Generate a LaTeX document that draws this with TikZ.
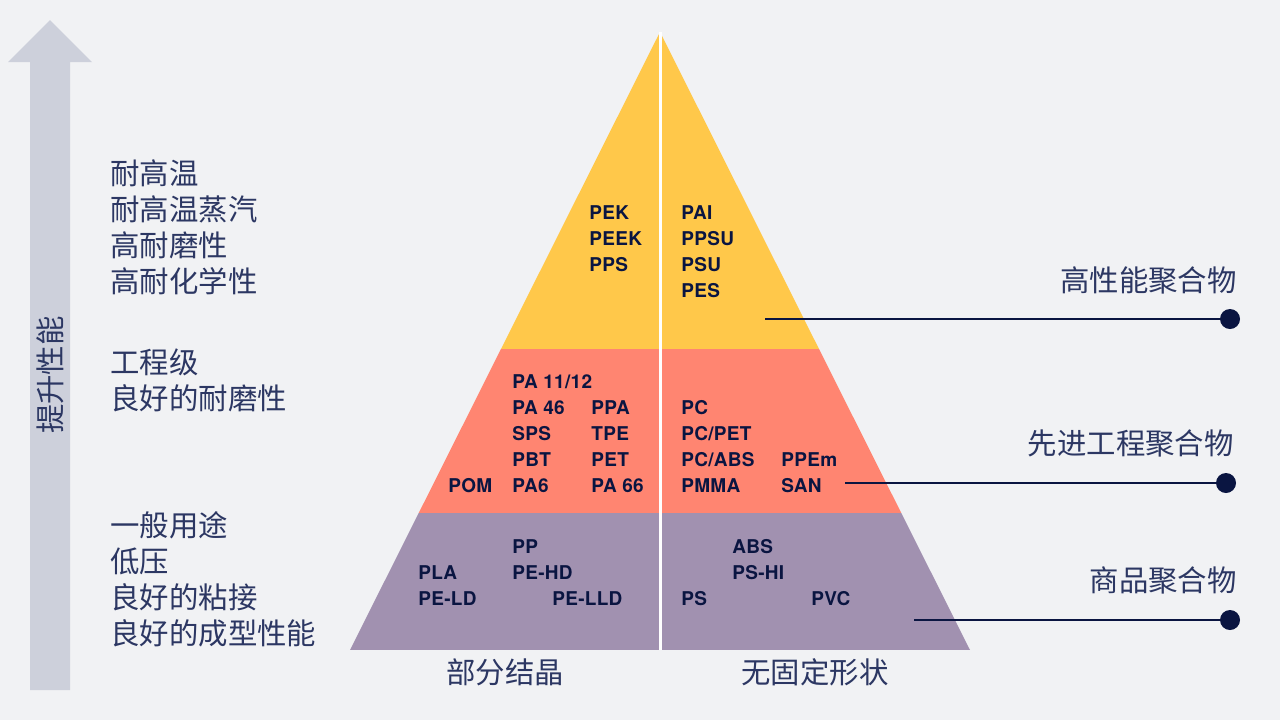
\documentclass[tikz,border=0pt]{standalone}
\usepackage{fontspec}
\setmainfont{Noto Sans}
\newfontfamily\cjk{Noto Sans CJK SC}
\newfontfamily\lab{TeX Gyre Heros}[LetterSpace=1.5]
\definecolor{bg}{HTML}{F1F2F4}
\definecolor{arrowc}{HTML}{CDD0DB}
\definecolor{yel}{HTML}{FFC84A}
\definecolor{sal}{HTML}{FF8571}
\definecolor{pur}{HTML}{A191B0}
\definecolor{navy}{HTML}{0A1541}
\definecolor{ink}{HTML}{2C3763}
\tikzset{
  mat/.style={font=\lab\bfseries\fontsize{9.5}{13}\selectfont, text=navy, anchor=base west, inner sep=0pt},
  cjktxt/.style={font=\cjk\fontsize{14.7}{18}\selectfont, text=ink, inner sep=0pt, align=left},
  dotnode/.style={circle, fill=navy, minimum size=10pt, inner sep=0pt},
  leader/.style={draw=navy, line width=1pt}
}
\begin{document}
\begin{tikzpicture}[x=0.5pt,y=-0.5pt]
\fill[bg] (0,0) rectangle (1280,720);
\useasboundingbox (0,0) rectangle (1280,720);
% arrow
\fill[arrowc] (30,690) -- (30,62) -- (8,62) -- (50,20) -- (92,62) -- (70,62) -- (70,690) -- cycle;
\node[cjktxt, rotate=90] (up) at (50,375) {提升性能};
% pyramid
\coordinate (apex) at (660,32);
\coordinate (bl) at (350,650);
\coordinate (br) at (970,650);
\begin{scope}
\clip (apex) -- (bl) -- (br) -- cycle;
\fill[yel] (300,0) rectangle (1000,349);
\fill[sal] (300,349) rectangle (1000,513);
\fill[pur] (300,513) rectangle (1000,650);
\end{scope}
\coordinate (mtop) at (660,32);
\coordinate (mbot) at (660,650);
\draw[white, line width=1.5pt] (mtop) -- (mbot);
% top materials
\node[mat] (pek) at (589,219) {PEK};
\node[mat] (peek) at (589,245) {PEEK};
\node[mat] (pps) at (589,271) {PPS};
\node[mat] (pai) at (681,219) {PAI};
\node[mat] (ppsu) at (681,245) {PPSU};
\node[mat] (psu) at (681,271) {PSU};
\node[mat] (pes) at (681,297) {PES};
% middle materials
\node[mat] (pa1112) at (512,388) {PA 11/12};
\node[mat] (pa46) at (512,414) {PA 46};
\node[mat] (sps) at (512,440) {SPS};
\node[mat] (pbt) at (512,466) {PBT};
\node[mat] (pa6) at (512,492) {PA6};
\node[mat] (ppa) at (591,414) {PPA};
\node[mat] (tpe) at (591,440) {TPE};
\node[mat] (pet) at (591,466) {PET};
\node[mat] (pa66) at (591,492) {PA 66};
\node[mat] (pom) at (448,492) {POM};
\node[mat] (pc) at (681,414) {PC};
\node[mat] (pcpet) at (681,440) {PC/PET};
\node[mat] (pcabs) at (681,466) {PC/ABS};
\node[mat] (pmma) at (681,492) {PMMA};
\node[mat] (ppem) at (781,466) {PPEm};
\node[mat] (san) at (781,492) {SAN};
% bottom materials
\node[mat] (pp) at (512,553) {PP};
\node[mat] (pehd) at (512,579) {PE-HD};
\node[mat] (pla) at (418,579) {PLA};
\node[mat] (peld) at (418,605) {PE-LD};
\node[mat] (pelld) at (552,605) {PE-LLD};
\node[mat] (abs) at (732,553) {ABS};
\node[mat] (pshi) at (732,579) {PS-HI};
\node[mat] (ps) at (681,605) {PS};
\node[mat] (pvc) at (811,605) {PVC};
% left property text (base anchor = last line)
\node[cjktxt, anchor=base west] (p1) at (110,292) {耐高温\\耐高温蒸汽\\高耐磨性\\高耐化学性};
\node[cjktxt, anchor=base west] (p2) at (110,409) {工程级\\良好的耐磨性};
\node[cjktxt, anchor=base west] (p3) at (110,644) {一般用途\\低压\\良好的粘接\\良好的成型性能};
% bottom labels
\node[cjktxt, anchor=base] (semi) at (505,683) {部分结晶};
\node[cjktxt, anchor=base] (amor) at (815,683) {无固定形状};
% right labels
\node[cjktxt, anchor=base east] (hp) at (1237,291) {高性能聚合物};
\node[cjktxt, anchor=base east] (aep) at (1234,454) {先进工程聚合物};
\node[cjktxt, anchor=base east] (cp) at (1237,591) {商品聚合物};
% leaders
\node[dotnode] (d1) at (1230,319) {};
\node[dotnode] (d2) at (1226,483) {};
\node[dotnode] (d3) at (1230,620) {};
\coordinate (s1) at (765,319);
\coordinate (s2) at (845,483);
\coordinate (s3) at (914,620);
\draw[leader] (s1) -- (d1);
\draw[leader] (s2) -- (d2);
\draw[leader] (s3) -- (d3);
\end{tikzpicture}
\end{document}
